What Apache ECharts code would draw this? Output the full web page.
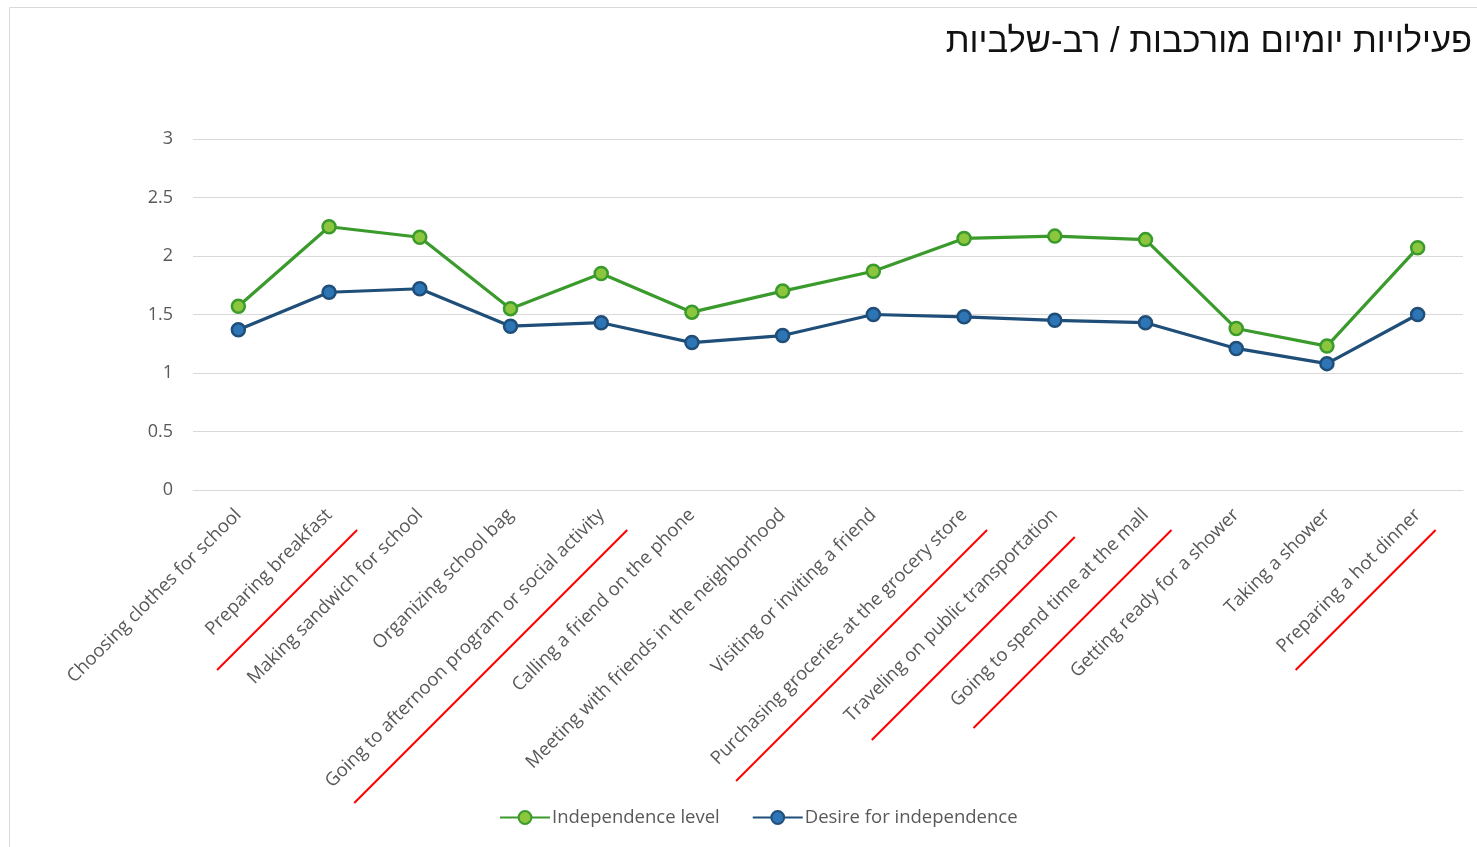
<!DOCTYPE html>
<html>
<head>
<meta charset="utf-8">
<script src="https://cdn.jsdelivr.net/npm/echarts@6/dist/echarts.min.js"></script>
<style>
html,body{margin:0;padding:0;background:#fff;}
#chart{width:1477px;height:847px;}
</style>
</head>
<body>
<div id="chart"></div>
<script>
// ---- data ----
const title = 'פעילויות יומיום מורכבות / רב-שלביות';
const categories = [
  'Choosing clothes for school',
  'Preparing breakfast',
  'Making sandwich for school',
  'Organizing school bag',
  'Going to afternoon program or social activity',
  'Calling a friend on the phone',
  'Meeting with friends in the neighborhood',
  'Visiting or inviting a friend',
  'Purchasing groceries at the grocery store',
  'Traveling on public transportation',
  'Going to spend time at the mall',
  'Getting ready for a shower',
  'Taking a shower',
  'Preparing a hot dinner'
];
const seriesNames = ['Independence level', 'Desire for independence'];
const independenceLevel = [1.57, 2.25, 2.16, 1.55, 1.85, 1.52, 1.70, 1.87, 2.15, 2.17, 2.14, 1.38, 1.23, 2.07];
const desireForIndependence = [1.37, 1.69, 1.72, 1.40, 1.43, 1.26, 1.32, 1.50, 1.48, 1.45, 1.43, 1.21, 1.08, 1.50];
const yTicks = [0, 0.5, 1, 1.5, 2, 2.5, 3];
// categories whose labels are underlined in red
const underlined = [1, 4, 8, 9, 10, 13];

// ---- annotation geometry (label underline: end offset dx, dy from axis, length) ----
const underlineGeom = {
  1: {dx: 28, dy: 40, len: 140},
  4: {dx: 26, dy: 40, len: 273},
  8: {dx: 23, dy: 40, len: 251},
  9: {dx: 20, dy: 47, len: 203},
  10: {dx: 26, dy: 40, len: 198},
  13: {dx: 18, dy: 40, len: 140}
};

const chart = echarts.init(document.getElementById('chart'), null, {renderer: 'canvas'});
const axisFont = '"Open Sans", "Liberation Sans", sans-serif';

const option = {
  backgroundColor: '#fff',
  animation: false,
  title: {
    text: title,
    right: 0,
    top: 20,
    textStyle: {
      fontFamily: '"Liberation Sans", "DejaVu Sans", sans-serif',
      fontSize: 34.5,
      fontWeight: 'normal',
      color: '#111'
    }
  },
  grid: {left: 193, right: 14, top: 139, bottom: 357, containLabel: false},
  legend: {
    data: seriesNames,
    bottom: 15,
    left: 494,
    itemWidth: 50,
    itemHeight: 16,
    itemGap: 32,
    textStyle: {fontFamily: axisFont, fontSize: 18.5, color: '#595959', padding: [0, 0, 0, -3]}
  },
  xAxis: {
    type: 'category',
    data: categories,
    boundaryGap: true,
    axisLine: {show: true, lineStyle: {color: '#d9d9d9', width: 1}},
    axisTick: {show: false},
    axisLabel: {
      interval: 0,
      rotate: 45,
      margin: 22,
      fontFamily: axisFont,
      fontSize: 18.5,
      color: '#595959'
    }
  },
  yAxis: {
    type: 'value',
    min: yTicks[0],
    max: yTicks[yTicks.length - 1],
    interval: 0.5,
    axisLine: {show: false},
    axisTick: {show: false},
    splitLine: {lineStyle: {color: '#d9d9d9', width: 1}},
    axisLabel: {
      margin: 20,
      fontFamily: axisFont,
      fontSize: 18,
      color: '#595959'
    }
  },
  series: [
    {
      name: seriesNames[0],
      type: 'line',
      data: independenceLevel,
      symbol: 'circle',
      symbolSize: 13,
      lineStyle: {color: '#3A9A2C', width: 3.2},
      itemStyle: {color: '#8CC63F', borderColor: '#3A9A2C', borderWidth: 2.5},
      color: '#3A9A2C'
    },
    {
      name: seriesNames[1],
      type: 'line',
      data: desireForIndependence,
      symbol: 'circle',
      symbolSize: 13,
      lineStyle: {color: '#1F4E79', width: 3.2},
      itemStyle: {color: '#2E75B6', borderColor: '#1F4E79', borderWidth: 2.5},
      color: '#1F4E79'
    }
  ]
};
chart.setOption(option);

// chart border + red underlines, positioned from the axis scale
const axisY = chart.convertToPixel({yAxisIndex: 0}, 0);
const graphics = [{
  type: 'rect',
  shape: {x: 9.5, y: 7.5, width: 1500, height: 900},
  style: {fill: null, stroke: '#d9d9d9', lineWidth: 1},
  silent: true,
  z: -1
}];
underlined.forEach(function (i) {
  const g = underlineGeom[i];
  const cx = chart.convertToPixel({xAxisIndex: 0}, i);
  const x2 = cx + g.dx, y2 = axisY + g.dy;
  graphics.push({
    type: 'line',
    shape: {x1: x2 - g.len, y1: y2 + g.len, x2: x2, y2: y2},
    style: {stroke: '#FF0000', lineWidth: 2},
    silent: true
  });
});
chart.setOption({graphic: graphics});
</script>
</body>
</html>
